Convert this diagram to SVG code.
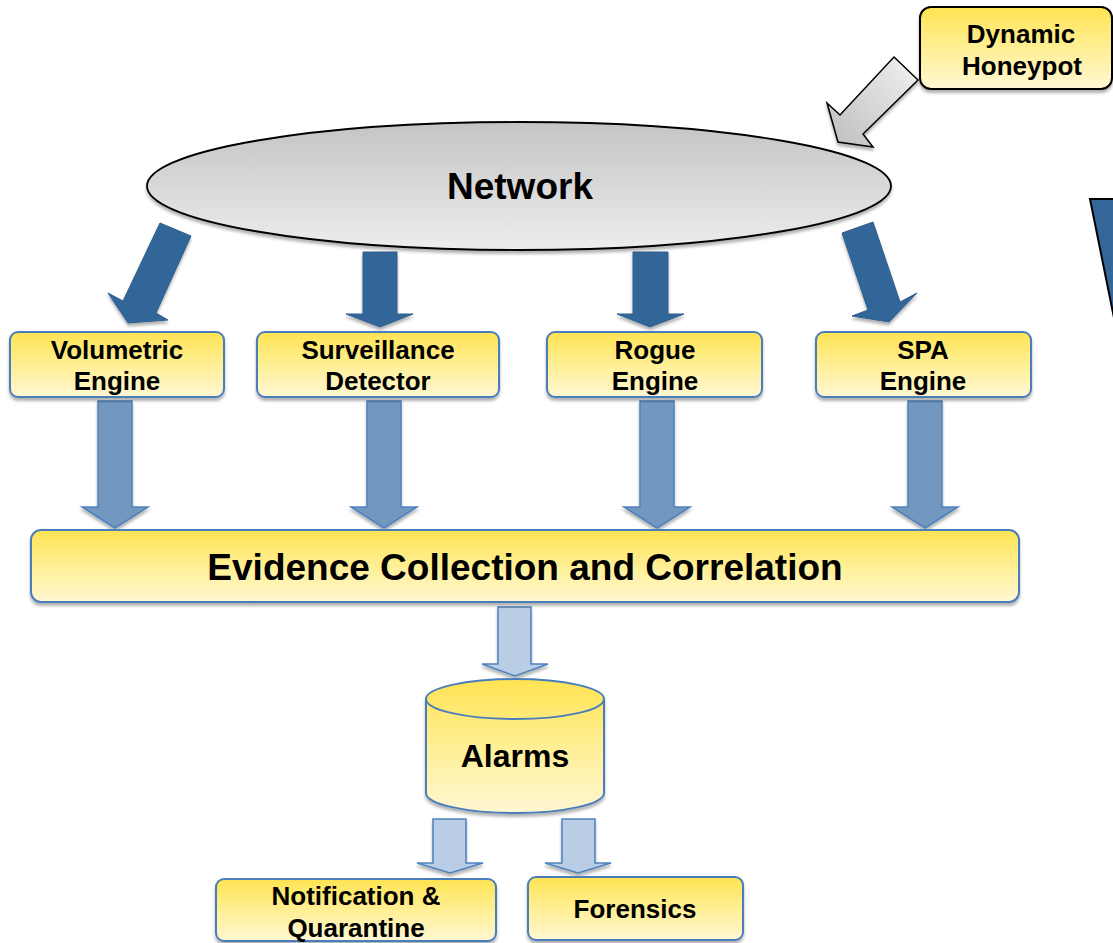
<svg xmlns="http://www.w3.org/2000/svg" width="1113" height="943" viewBox="0 0 1113 943">
<defs>
<linearGradient id="yel" x1="0" y1="0" x2="0" y2="1">
<stop offset="0" stop-color="#FFE352"/>
<stop offset="0.5" stop-color="#FFEF94"/>
<stop offset="1" stop-color="#FFF7D3"/>
</linearGradient>
<linearGradient id="gray" x1="0" y1="0" x2="0" y2="1">
<stop offset="0" stop-color="#C4C4C4"/>
<stop offset="1" stop-color="#EDEDED"/>
</linearGradient>
<linearGradient id="grayArrow" x1="1" y1="0" x2="0" y2="1">
<stop offset="0" stop-color="#F2F2F2"/>
<stop offset="1" stop-color="#BDBDBD"/>
</linearGradient>
<filter id="sh" x="-10%" y="-10%" width="120%" height="140%">
<feDropShadow dx="0" dy="3" stdDeviation="1.5" flood-color="#000" flood-opacity="0.3"/>
</filter>
</defs>
<style>
.box{fill:url(#yel);stroke:#4A7EBB;stroke-width:2;filter:url(#sh)}
.t{font-family:"Liberation Sans",Arial,sans-serif;font-weight:bold;fill:#000;text-anchor:middle}
.s26{font-size:26px}
.dark{fill:#336699;stroke:#2E5F8E;stroke-width:1;filter:url(#sh)}
.mid{fill:#7398BF;stroke:#4F81BD;stroke-width:1.5;filter:url(#sh)}
.light{fill:#B9CDE5;stroke:#4F81BD;stroke-width:1.5;filter:url(#sh)}
</style>
<rect width="1113" height="943" fill="#FFFFFF"/>

<g id="connectors">
<polygon points="894,57 918,80 863,134 873,147 838,142 827,103 840,115" fill="url(#grayArrow)" stroke="#000" stroke-width="1.5" filter="url(#sh)"/>
<polygon class="dark" points="160,223 191,236 156,313 168,320 128,323 108,293 123,301"/>
<polygon class="dark" points="363,252 397,252 397,314 413,314 380,327 346,314 363,314"/>
<polygon class="dark" points="633,252 668,252 668,314 684,314 650,327 617,314 633,314"/>
<polygon class="dark" points="842,233 873,222 900,302 917,293 889,322 852,316 868,310"/>
<polygon class="mid" points="98,401 132,401 132,507 148,507 115,528 82,507 98,507"/>
<polygon class="mid" points="367,401 401,401 401,507 417,507 384,528 351,507 367,507"/>
<polygon class="mid" points="640,401 674,401 674,507 690,507 657,528 624,507 640,507"/>
<polygon class="mid" points="908,401 942,401 942,507 958,507 925,528 892,507 908,507"/>
<polygon class="light" points="498,607 531,607 531,664 548,664 515,676 482,664 498,664"/>
<polygon class="light" points="433,819 466,819 466,863 483,863 450,873 417,863 433,863"/>
<polygon class="light" points="562,819 595,819 595,863 611,863 578,873 545,863 562,863"/>
</g>

<g id="side-shape">
<polygon points="1090,199 1125,199 1114,318" fill="#346699" stroke="#000" stroke-width="2"/>
</g>

<g id="honeypot">
<rect x="920" y="7" width="192" height="82" rx="11" fill="url(#yel)" stroke="#000" stroke-width="2" filter="url(#sh)"/>
<text class="t s26" x="1021" y="43">Dynamic</text>
<text class="t s26" x="1022" y="75">Honeypot</text>
</g>

<g id="network">
<ellipse cx="519" cy="186" rx="372" ry="64" fill="url(#gray)" stroke="#000" stroke-width="1.8" filter="url(#sh)"/>
<text class="t" x="520" y="199" font-size="37">Network</text>
</g>

<g id="volumetric">
<rect class="box" x="10" y="332" width="214" height="65" rx="8"/>
<text class="t s26" x="117" y="359">Volumetric</text>
<text class="t s26" x="117" y="390">Engine</text>
</g>

<g id="surveillance">
<rect class="box" x="257" y="332" width="242" height="65" rx="8"/>
<text class="t s26" x="378" y="359">Surveillance</text>
<text class="t s26" x="378" y="390">Detector</text>
</g>

<g id="rogue">
<rect class="box" x="547" y="332" width="215" height="65" rx="8"/>
<text class="t s26" x="655" y="359">Rogue</text>
<text class="t s26" x="655" y="390">Engine</text>
</g>

<g id="spa">
<rect class="box" x="816" y="332" width="215" height="65" rx="8"/>
<text class="t s26" x="923" y="359">SPA</text>
<text class="t s26" x="923" y="390">Engine</text>
</g>

<g id="evidence">
<rect class="box" x="31" y="530" width="988" height="72" rx="10"/>
<text class="t" x="525" y="580" font-size="37">Evidence Collection and Correlation</text>
</g>

<g id="alarms">
<path d="M426,699 L426,793 A89,20 0 0 0 604,793 L604,699 A89,20 0 0 0 426,699 Z" fill="url(#yel)" stroke="#4A7EBB" stroke-width="2" filter="url(#sh)"/>
<path d="M426,699 A89,20 0 0 0 604,699" fill="none" stroke="#4A7EBB" stroke-width="2"/>
<text class="t" x="515" y="767" font-size="32">Alarms</text>
</g>

<g id="notification">
<rect class="box" x="216" y="879" width="280" height="62" rx="8"/>
<text class="t s26" x="356" y="905">Notification &amp;</text>
<text class="t s26" x="356" y="937">Quarantine</text>
</g>

<g id="forensics">
<rect class="box" x="528" y="877" width="215" height="63" rx="8"/>
<text class="t s26" x="635" y="918">Forensics</text>
</g>
</svg>
